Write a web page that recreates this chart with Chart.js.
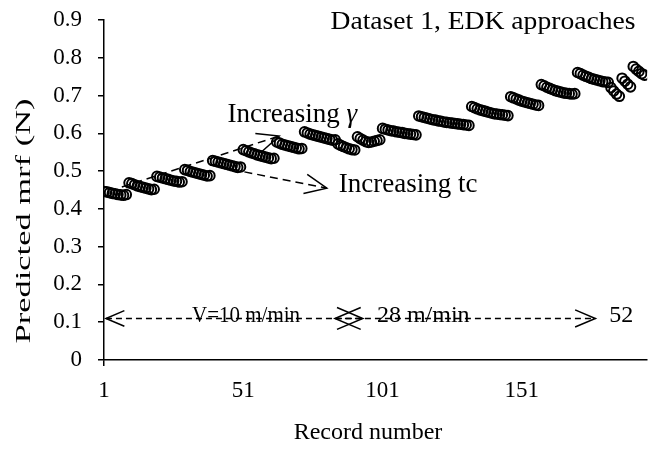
<!DOCTYPE html>
<html>
<head>
<meta charset="utf-8">
<script src="https://cdn.jsdelivr.net/npm/chart.js@4/dist/chart.umd.min.js"></script>
<style>
  html, body { margin: 0; padding: 0; background: #fff; }
</style>
</head>
<body>
<canvas id="myChart" width="654" height="453"></canvas>
<script>
// Predicted mrf (N) for each record, split by cutting speed
var v10Mrf = [
  0.446, 0.445, 0.443, 0.441, 0.440, 0.438, 0.437, 0.436, 0.438,
  0.469, 0.467, 0.464, 0.461, 0.459, 0.457, 0.455, 0.453, 0.451, 0.452,
  0.486, 0.484, 0.482, 0.480, 0.478, 0.476, 0.474, 0.473, 0.471, 0.472,
  0.504, 0.502, 0.499, 0.497, 0.495, 0.493, 0.491, 0.489, 0.487, 0.488,
  0.528, 0.526, 0.524, 0.522, 0.520, 0.518, 0.516, 0.514, 0.512, 0.510, 0.511,
  0.557, 0.554, 0.551, 0.548, 0.546, 0.543, 0.541, 0.539, 0.537, 0.535, 0.533, 0.534,
  0.577, 0.574, 0.571, 0.569, 0.567, 0.565, 0.563, 0.561, 0.559, 0.560,
  0.604, 0.601, 0.598, 0.596, 0.594, 0.592, 0.590, 0.588, 0.586, 0.584, 0.582, 0.583,
  0.572, 0.568, 0.565, 0.562, 0.559, 0.557, 0.556
];
var v28Mrf = [
  0.591, 0.586, 0.582, 0.578, 0.576, 0.577, 0.579, 0.581, 0.583,
  0.613, 0.611, 0.609, 0.607, 0.606, 0.604, 0.603, 0.602, 0.600, 0.599, 0.598, 0.597, 0.596,
  0.646, 0.644, 0.642, 0.640, 0.638, 0.636, 0.635, 0.633, 0.632, 0.630,
  0.629, 0.628, 0.627, 0.626, 0.625, 0.624, 0.623, 0.622, 0.621,
  0.671, 0.668, 0.665, 0.662, 0.660, 0.658, 0.656, 0.654, 0.652, 0.651, 0.650, 0.649, 0.648, 0.647,
  0.697, 0.694, 0.691, 0.688, 0.685, 0.683, 0.681, 0.679, 0.677, 0.675, 0.674,
  0.729, 0.726, 0.722, 0.719, 0.716, 0.713, 0.711, 0.709, 0.707, 0.706, 0.705, 0.704, 0.705,
  0.761, 0.758, 0.754, 0.751, 0.748, 0.745, 0.743, 0.741, 0.739, 0.737, 0.736, 0.735
];
var v52Mrf = [
  0.721, 0.712, 0.704, 0.698,
  0.746, 0.738, 0.730, 0.723,
  0.777, 0.770, 0.764, 0.758, 0.754
];
var xTicks = [1, 51, 101, 151];
var yTicks = [0, 0.1, 0.2, 0.3, 0.4, 0.5, 0.6, 0.7, 0.8, 0.9];

var mrf = v10Mrf.concat(v28Mrf, v52Mrf);
var points = mrf.map(function (v, i) { return { x: i + 1, y: v }; });

var FONT = '"Liberation Serif", "Times New Roman", serif';
var TICK = 23;

// dashed arrows, axis titles and the text notes
var notes = {
  id: 'notes',
  afterDatasetsDraw: function (chart) {
    var ctx = chart.ctx;
    var xs = chart.scales.x, ys = chart.scales.y;
    function px(v) { return xs.getPixelForValue(v); }
    function py(v) { return ys.getPixelForValue(v); }

    function head(x1, y1, x2, y2, len, ang) {
      var a = Math.atan2(y2 - y1, x2 - x1);
      ctx.setLineDash([]);
      ctx.beginPath();
      ctx.moveTo(x2 - len * Math.cos(a - ang), y2 - len * Math.sin(a - ang));
      ctx.lineTo(x2, y2);
      ctx.lineTo(x2 - len * Math.cos(a + ang), y2 - len * Math.sin(a + ang));
      ctx.stroke();
    }
    // dashed line from a to b, heads: [length at b, length at a (0 = none)]
    function arrow(a, b, dash, heads, ang) {
      var x1 = px(a[0]), y1 = py(a[1]), x2 = px(b[0]), y2 = py(b[1]);
      ctx.setLineDash(dash);
      ctx.beginPath();
      ctx.moveTo(x1, y1);
      ctx.lineTo(x2, y2);
      ctx.stroke();
      if (heads[0]) head(x1, y1, x2, y2, heads[0], ang);
      if (heads[1]) head(x2, y2, x1, y1, heads[1], ang);
    }
    // text squeezed or stretched to a given width
    function label(text, x, y, size, width, align, rot) {
      ctx.save();
      ctx.font = size + 'px ' + FONT;
      var w = ctx.measureText(text).width;
      var k = width ? width / w : 1;
      ctx.translate(x, y);
      if (rot) ctx.rotate(rot);
      ctx.scale(k, 1);
      ctx.textAlign = align || 'center';
      ctx.textBaseline = 'middle';
      ctx.fillText(text, 0, 0);
      ctx.restore();
    }

    ctx.save();
    ctx.strokeStyle = '#000';
    ctx.fillStyle = '#000';
    ctx.lineWidth = 1.5;
    arrow([7.4, 0.458], [63.9, 0.593], [8, 5], [24, 0], 0.42);
    arrow([51.4, 0.498], [81, 0.455], [8, 5], [24, 0], 0.42);
    arrow([1.7, 0.11], [93.9, 0.11], [6, 4], [28, 20], 0.4);
    arrow([83.9, 0.11], [177.4, 0.11], [6, 4], [22, 28], 0.4);

    label('Dataset 1, EDK approaches', px(191.8), py(0.893), 26, 305, 'right');

    ctx.font = '27px ' + FONT;
    ctx.textAlign = 'left';
    ctx.textBaseline = 'alphabetic';
    var gx = px(45.3), gy = py(0.63);
    var t = 'Increasing ';
    ctx.fillText(t, gx, gy);
    var w = ctx.measureText(t).width;
    ctx.font = 'italic 27px ' + FONT;
    ctx.fillText('\u03b3', gx + w, gy);
    ctx.font = '27px ' + FONT;
    ctx.fillText('Increasing tc', px(85.3), py(0.445));

    label('V=10 m/min', px(52), py(0.117), 23, 108, 'center');
    label('28 m/min', px(115.6), py(0.117), 24, 0, 'center');
    label('52', px(182.4), py(0.117), 24, 0, 'left');

    // axis titles
    label('Record number', 368, 433, 24, 0, 'center');
    label('Predicted mrf (N)', 24, 221, 22, 245, 'center', -Math.PI / 2);
    ctx.restore();
  }
};

var ctx = document.getElementById('myChart').getContext('2d');
var chart = new Chart(ctx, {
  type: 'scatter',
  data: {
    datasets: [{
      label: 'Predicted mrf',
      data: points,
      pointStyle: 'circle',
      pointRadius: 4.8,
      pointBorderWidth: 2,
      pointBorderColor: '#000',
      pointBackgroundColor: 'rgba(0,0,0,0)',
      showLine: false
    }]
  },
  options: {
    responsive: false,
    animation: false,
    layout: { padding: { top: 20, right: 4, left: 0, bottom: 0 } },
    plugins: {
      legend: { display: false },
      tooltip: { enabled: false }
    },
    scales: {
      x: {
        type: 'linear',
        min: 1,
        max: 196,
        afterBuildTicks: function (axis) {
          axis.ticks = xTicks.map(function (v) { return { value: v }; });
        },
        afterFit: function (axis) { axis.height = 93; },
        ticks: {
          color: '#000',
          font: { family: FONT, size: TICK },
          padding: 11,
          maxRotation: 0,
          autoSkip: false
        },
        grid: {
          drawOnChartArea: false,
          tickLength: 6,
          color: function (c) { return c.tick && c.tick.value === 1 ? '#000' : 'rgba(0,0,0,0)'; },
          lineWidth: 1.5
        },
        border: { color: '#000', width: 1.5 }
      },
      y: {
        min: 0,
        max: 0.9,
        afterBuildTicks: function (axis) {
          axis.ticks = yTicks.map(function (v) { return { value: v }; });
        },
        afterFit: function (axis) {
          axis.width = 104;
          axis.paddingTop = 0;
          axis.paddingBottom = 0;
        },
        ticks: {
          color: '#000',
          font: { family: FONT, size: TICK },
          padding: 16,
          callback: function (v) { return v === 0 ? '0' : v.toFixed(1); }
        },
        grid: {
          drawOnChartArea: false,
          tickLength: 6,
          color: '#000',
          lineWidth: 1.5
        },
        border: { color: '#000', width: 1.5 }
      }
    }
  },
  plugins: [notes]
});
</script>
</body>
</html>
